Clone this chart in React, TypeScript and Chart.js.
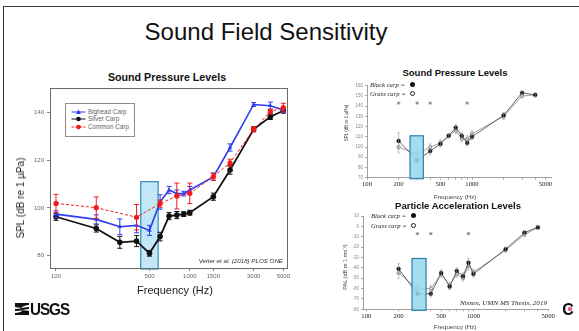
import React, { useEffect, useRef } from "react";
import { Chart, registerables } from "chart.js";
Chart.register(...registerables);

// ---------- Left chart: Vetter et al. (2018) ----------
const mainFreqs = [100, 200, 300, 400, 500, 600, 700, 800, 900, 1000, 1500, 2000, 3000, 4000, 5000];
const bigheadSPL = [97.4, 95.2, 92.1, 92.7, 90.6, 102.5, 107.5, 106, 106, 107.5, 113, 125.3, 143.3, 142.8, 141];
const bigheadErr = [1.4, 1.9, 3.3, 3.1, 2.1, 3, 1.5, 1.5, 1, 1.5, 1.5, 1.5, 0.8, 1.5, 1];
const silverSPL = [96.3, 91.4, 85.6, 86.1, 81, 88, 96.6, 97, 97.4, 98, 104.7, 115.9, 132.9, 138.2, 140.7];
const silverErr = [1.5, 1.5, 2.5, 2.3, 1.2, 1.8, 1.5, 1.5, 1, 1, 1.5, 1.8, 1, 1.2, 1];
const commonFreqs = [100, 200, 400, 600, 800, 1000, 1500, 2000, 3000, 4000, 5000];
const commonSPL = [101.9, 100.1, 96.1, 101.8, 105, 106.1, 113.1, 118.9, 132.9, 140.3, 142];
const commonErr = [3.8, 4.5, 5.3, 1.5, 5.4, 4.3, 1.5, 1.5, 1, 1, 1.8];
const mainXTicks = [100, 500, 1000, 1500, 3000, 5000];
const mainYTicks = [80, 100, 120, 140];
const mainBandHz = [430, 580];
const mainBandTop = 111;

// ---------- Right charts: Nissen (2019) ----------
const carpFreqs = [200, 300, 400, 500, 600, 700, 800, 900, 1000, 2000, 3000, 4000];
const blackSPL = [106, 87, 96, 103, 111, 119, 111, 104, 110, 131, 153, 151];
const grassSPL = [100, 93, 100, 104, 111, 116, 108, 108, 113, 130, 150, 151];
const blackSPLErr = [8, 3, 3, 3, 2, 3, 3, 3, 3, 3, 2, 2];
const grassSPLErr = [6, 3, 3, 3, 2, 3, 3, 3, 3, 3, 2, 2];
const blackPAL = [-41, -65, -65, -45, -58, -43, -48, -35, -46, -22, -6, -1];
const grassPAL = [-45, -60, -60, -46, -57, -46, -50, -38, -44, -23, -8, -1];
const blackPALErr = [5, 3, 3, 3, 3, 3, 3, 4, 3, 2, 2, 2];
const grassPALErr = [5, 3, 3, 3, 3, 3, 3, 4, 3, 2, 2, 2];
const rightXTicks = [100, 200, 300, 400, 500, 600, 700, 800, 900, 1000, 2000, 3000, 4000, 5000];
const rightXLabels = [100, 200, 500, 1000, 5000];
const splStarFreqs = [200, 300, 400, 900];
const splStarLevel = 143;
const palStarFreqs = [300, 400, 900];
const palStarLevel = -7;
const splBandHz = [257, 344];
const splBandTop = 111;
const palBandHz = [267, 361];
const palBandTop = -31;

const pts = (xs: number[], ys: number[]) => xs.map((x, i) => ({ x, y: ys[i] }));

const errorBars = {
  id: "errorBars",
  afterDatasetDraw(chart: any, args: any) {
    const ds: any = chart.data.datasets[args.index];
    if (!ds.errors) return;
    const xs = chart.scales.x, ys = chart.scales.y, ctx = chart.ctx;
    ctx.save();
    ctx.strokeStyle = ds.errorColor || ds.borderColor;
    ctx.lineWidth = ds.errorWidth || 1;
    ctx.setLineDash([]);
    const cap = ds.errorCap ?? 2.5;
    ds.data.forEach((p: any, i: number) => {
      const e = ds.errors[i];
      if (!e) return;
      const x = xs.getPixelForValue(p.x);
      const y1 = ys.getPixelForValue(p.y - e);
      const y2 = ys.getPixelForValue(p.y + e);
      ctx.beginPath();
      ctx.moveTo(x, y1); ctx.lineTo(x, y2);
      ctx.moveTo(x - cap, y1); ctx.lineTo(x + cap, y1);
      ctx.moveTo(x - cap, y2); ctx.lineTo(x + cap, y2);
      ctx.stroke();
    });
    ctx.restore();
  },
};

function bandPlugin(hz: number[], top: number, fill: string, stroke: string, after: boolean) {
  const draw = (chart: any) => {
    const { ctx, chartArea, scales } = chart;
    const l = scales.x.getPixelForValue(hz[0]);
    const r = scales.x.getPixelForValue(hz[1]);
    const t = scales.y.getPixelForValue(top);
    const b = chartArea.bottom + 1;
    ctx.save();
    ctx.fillStyle = fill;
    ctx.fillRect(l, t, r - l, b - t);
    ctx.strokeStyle = stroke;
    ctx.lineWidth = 1.2;
    ctx.strokeRect(l, t, r - l, b - t);
    ctx.restore();
  };
  return after ? { id: "band", afterDatasetsDraw: draw } : { id: "band", beforeDatasetsDraw: draw };
}

const framePlugin = {
  id: "frame",
  afterDraw(chart: any) {
    const { ctx, chartArea: a } = chart;
    ctx.save();
    ctx.strokeStyle = "#6a6a6a";
    ctx.lineWidth = 1;
    ctx.strokeRect(Math.round(a.left) + 0.5, Math.round(a.top) + 0.5, Math.round(a.right - a.left), Math.round(a.bottom - a.top));
    ctx.restore();
  },
};

function mainConfig(): any {
  return {
    type: "line",
    data: {
      datasets: [
        { label: "Common Carp", data: pts(commonFreqs, commonSPL), errors: commonErr, borderColor: "#f21a1a", backgroundColor: "#f21a1a", borderWidth: 1, borderDash: [3, 2], pointStyle: "circle", pointRadius: 2.6, pointBorderWidth: 0, order: 0 },
        { label: "Bighead Carp", data: pts(mainFreqs, bigheadSPL), errors: bigheadErr, borderColor: "#2f3cf0", backgroundColor: "#2f3cf0", borderWidth: 1.6, pointStyle: "triangle", pointRadius: 2.6, pointBorderWidth: 0, order: 1 },
        { label: "Silver Carp", data: pts(mainFreqs, silverSPL), errors: silverErr, borderColor: "#111111", backgroundColor: "#111111", borderWidth: 1.8, pointStyle: "circle", pointRadius: 2.8, pointBorderWidth: 0, order: 2 },
      ],
    },
    options: {
      responsive: false,
      animation: false,
      layout: { padding: { left: 0, right: 13, top: 8, bottom: 0 } },
      plugins: { legend: { display: false }, tooltip: { enabled: false } },
      scales: {
        x: {
          type: "logarithmic", min: 90.2, max: 5328,
          afterBuildTicks: (s: any) => { s.ticks = mainXTicks.map((v) => ({ value: v })); },
          afterFit: (s: any) => { s.height = 22; },
          ticks: { autoSkip: false, maxRotation: 0, padding: 2, color: "#666", font: { family: "Liberation Sans", size: 6 }, callback: (v: any) => String(v) },
          grid: { drawOnChartArea: false, tickLength: 3, color: "#888" },
          border: { display: false },
        },
        y: {
          min: 74.85, max: 150.2,
          afterBuildTicks: (s: any) => { s.ticks = mainYTicks.map((v) => ({ value: v })); },
          afterFit: (s: any) => { s.width = 30; },
          ticks: { padding: 3, color: "#666", font: { family: "Liberation Sans", size: 6 }, callback: (v: any) => String(v) },
          grid: { drawOnChartArea: false, tickLength: 3, color: "#888" },
          border: { display: false },
        },
      },
    },
    plugins: [bandPlugin(mainBandHz, mainBandTop, "#c3e7f6", "#2f8db5", false), errorBars, framePlugin],
  };
}

function rightConfig(kind: "spl" | "pal"): any {
  const spl = kind === "spl";
  const bY = spl ? blackSPL : blackPAL;
  const gY = spl ? grassSPL : grassPAL;
  const bE = spl ? blackSPLErr : blackPALErr;
  const gE = spl ? grassSPLErr : grassPALErr;
  const starF = spl ? splStarFreqs : palStarFreqs;
  const starL = spl ? splStarLevel : palStarLevel;
  return {
    type: "line",
    data: {
      datasets: [
        { data: starF.map((f) => ({ x: f, y: starL })), showLine: false, pointStyle: "star", pointRadius: 1.8, borderColor: "#777", pointBorderWidth: 0.7, order: 0 },
        { data: pts(carpFreqs, bY), errors: bE, errorColor: "#9a9a9a", errorWidth: 0.6, errorCap: 1.3, borderColor: "#555", backgroundColor: "#111", borderWidth: 0.9, pointRadius: 1.9, pointBorderColor: "#222", pointBorderWidth: 0.5, order: 1 },
        { data: pts(carpFreqs, gY), errors: gE, errorColor: "#a8a8a8", errorWidth: 0.6, errorCap: 1.3, borderColor: "#999", backgroundColor: "#fff", borderWidth: 0.9, pointRadius: 1.6, pointBorderColor: "#666", pointBorderWidth: 0.8, order: 2 },
      ],
    },
    options: {
      responsive: false,
      animation: false,
      layout: { padding: spl ? { left: 0, right: 18.3, top: 5.7, bottom: 0 } : { left: 0, right: 21.8, top: 6, bottom: 0 } },
      plugins: { legend: { display: false }, tooltip: { enabled: false } },
      scales: {
        x: {
          type: "logarithmic", min: spl ? 100 : 93, max: spl ? 5740 : 5000,
          afterBuildTicks: (s: any) => { s.ticks = rightXTicks.map((v) => ({ value: v })); },
          afterFit: (s: any) => { s.height = spl ? 17.3 : 18.7; },
          ticks: { autoSkip: false, maxRotation: 0, padding: 1, color: "#222", font: { family: "Liberation Serif", size: 6.7 }, callback: (v: any) => (rightXLabels.includes(v) ? String(v) : "") },
          grid: { drawOnChartArea: false, tickLength: 2, color: "#aaa" },
          border: { color: "#a0a0a0", width: 1 },
        },
        y: {
          min: spl ? 70 : -80, max: spl ? 160 : 10,
          afterFit: (s: any) => { s.width = spl ? 37 : 33; },
          ticks: { stepSize: 10, padding: 2, color: "#888", font: { family: "Liberation Sans", size: 4.5 } },
          grid: { drawOnChartArea: false, tickLength: 2, color: "#aaa" },
          border: { color: "#a0a0a0", width: 1 },
        },
      },
    },
    plugins: [errorBars, bandPlugin(spl ? splBandHz : palBandHz, spl ? splBandTop : palBandTop, "rgba(150,214,240,0.85)", "#2a7fa8", true)],
  };
}

function ChartBox({ left, top, width, height, make }: any) {
  const ref = useRef<HTMLCanvasElement>(null);
  useEffect(() => {
    const c = new Chart(ref.current as HTMLCanvasElement, make());
    return () => c.destroy();
  }, []);
  return <canvas ref={ref} width={width} height={height} style={{ position: "absolute", left, top, width, height }} />;
}

function Txt({ x, y, size, children, style = {}, anchor = "center", rotate = false }: any) {
  const tx = anchor === "center" ? "-50%" : anchor === "end" ? "-100%" : "0";
  return (
    <div style={{ position: "absolute", left: x, top: y, fontSize: size, lineHeight: 1, whiteSpace: "nowrap", transform: `translate(${tx}, -50%)${rotate ? " rotate(-90deg)" : ""}`, transformOrigin: rotate ? "50% 50%" : undefined, ...style }}>
      {children}
    </div>
  );
}

function LegendRow({ y, color, label, marker, dashed }: any) {
  return (
    <>
      <svg style={{ position: "absolute", left: 71, top: y - 3 }} width={15} height={6}>
        <line x1={0.5} y1={3} x2={14.5} y2={3} stroke={color} strokeWidth={1} strokeDasharray={dashed ? "2.5 1.5" : undefined} />
        {marker === "tri" ? <polygon points="7.5,0.6 10,5 5,5" fill={color} /> : <circle cx={7.5} cy={3} r={2.3} fill={color} />}
      </svg>
      <Txt x={88} y={y} size={6.3} anchor="start" style={{ color: "#666", fontFamily: "Liberation Sans" }}>{label}</Txt>
    </>
  );
}

function CarpLegend({ x, y1, y2 }: any) {
  const st = { fontFamily: "Liberation Serif", fontStyle: "italic", color: "#222" };
  return (
    <>
      <Txt x={x} y={y1} size={6.6} anchor="start" style={st}>Black carp =</Txt>
      <div style={{ position: "absolute", left: x + 39.5, top: y1 - 2.6, width: 5, height: 5, borderRadius: "50%", background: "#111" }} />
      <Txt x={x} y={y2} size={6.6} anchor="start" style={st}>Grass carp =</Txt>
      <div style={{ position: "absolute", left: x + 39.5, top: y2 - 2.6, width: 3, height: 3, borderRadius: "50%", background: "#fff", border: "1.2px solid #222" }} />
    </>
  );
}

export default function App() {
  return (
    <div style={{ position: "fixed", left: 0, top: 0, width: 579, height: 331, background: "#fff", overflow: "hidden", fontFamily: "Liberation Sans" }}>
      <div style={{ position: "absolute", left: 3, top: 6, width: 600, height: 400, borderTop: "1.5px solid #3a3a3a", borderLeft: "1.5px solid #3a3a3a" }} />
      <Txt x={266} y={31.5} size={24} style={{ color: "#111" }}>Sound Field Sensitivity</Txt>

      {/* Left chart */}
      <Txt x={167} y={77} size={10.7} style={{ fontWeight: "bold", color: "#111" }}>Sound Pressure Levels</Txt>
      <ChartBox left={20} top={80} width={280} height={210} make={mainConfig} />
      <Txt x={21} y={198} size={10} rotate style={{ color: "#222" }}>SPL (dB re 1 µPa)</Txt>
      <Txt x={175} y={290} size={11} style={{ color: "#222" }}>Frequency (Hz)</Txt>
      <div style={{ position: "absolute", left: 65, top: 103, width: 68, height: 32, border: "1px solid #8a8a8a", background: "#fff" }} />
      <LegendRow y={111.7} color="#2f3cf0" label="Bighead Carp" marker="tri" />
      <LegendRow y={119.3} color="#111111" label="Silver Carp" marker="dot" />
      <LegendRow y={126.7} color="#f21a1a" label="Common Carp" marker="dot" dashed />
      <Txt x={283} y={261} size={6.2} anchor="end" style={{ fontStyle: "italic", color: "#333" }}>Vetter et al. (2018) PLOS ONE</Txt>

      {/* Right top chart */}
      <Txt x={455} y={72.7} size={9.5} style={{ fontWeight: "bold", color: "#111" }}>Sound Pressure Levels</Txt>
      <ChartBox left={330} top={80} width={240} height={115} make={() => rightConfig("spl")} />
      <CarpLegend x={370} y1={85} y2={94} />
      <Txt x={347} y={123} size={4.5} rotate style={{ color: "#444" }}>SPL (dB re 1 µPa)</Txt>
      <Txt x={455} y={196.7} size={6.2} style={{ color: "#444" }}>Frequency (Hz)</Txt>

      {/* Right bottom chart */}
      <Txt x={458} y={206} size={9.5} style={{ fontWeight: "bold", color: "#111" }}>Particle Acceleration Levels</Txt>
      <ChartBox left={330} top={210} width={240} height={118} make={() => rightConfig("pal")} />
      <CarpLegend x={371} y1={216} y2={226} />
      <Txt x={346} y={267} size={5.5} rotate style={{ color: "#444" }}>PAL (dB re 1 ms⁻²)</Txt>
      <Txt x={455} y={326.7} size={6.2} style={{ color: "#444" }}>Frequency (Hz)</Txt>
      <Txt x={547} y={304.3} size={7.1} anchor="end" style={{ fontFamily: "Liberation Serif", fontStyle: "italic", color: "#222" }}>Nissen, UMN MS Thesis, 2019</Txt>

      {/* Logos */}
      <svg style={{ position: "absolute", left: 15, top: 303 }} width={14} height={12}>
        <path d="M0,0 L14,0 L14,2 Q9,2 5,5.5 Q9,4 14,4 L14,6 Q9,6 6,7.5 Q10,7 14,8 L14,12 L0,12 L0,10 Q5,10 9,6.5 Q5,8 0,8 L0,6 Q5,6 8,4.5 Q4,5 0,4 Z" fill="#111" />
      </svg>
      <Txt x={30} y={309} size={17} anchor="start" style={{ fontWeight: "bold", color: "#111", letterSpacing: -1.2, transform: "translate(0,-50%) scaleX(0.9)", transformOrigin: "0 50%" }}>USGS</Txt>
      <Txt x={568} y={309.5} size={16} style={{ fontWeight: "bold", color: "#111" }}>C</Txt>
      <div style={{ position: "absolute", left: 568, top: 307, width: 4, height: 4, background: "#ef5f86", borderRadius: 1 }} />
    </div>
  );
}
